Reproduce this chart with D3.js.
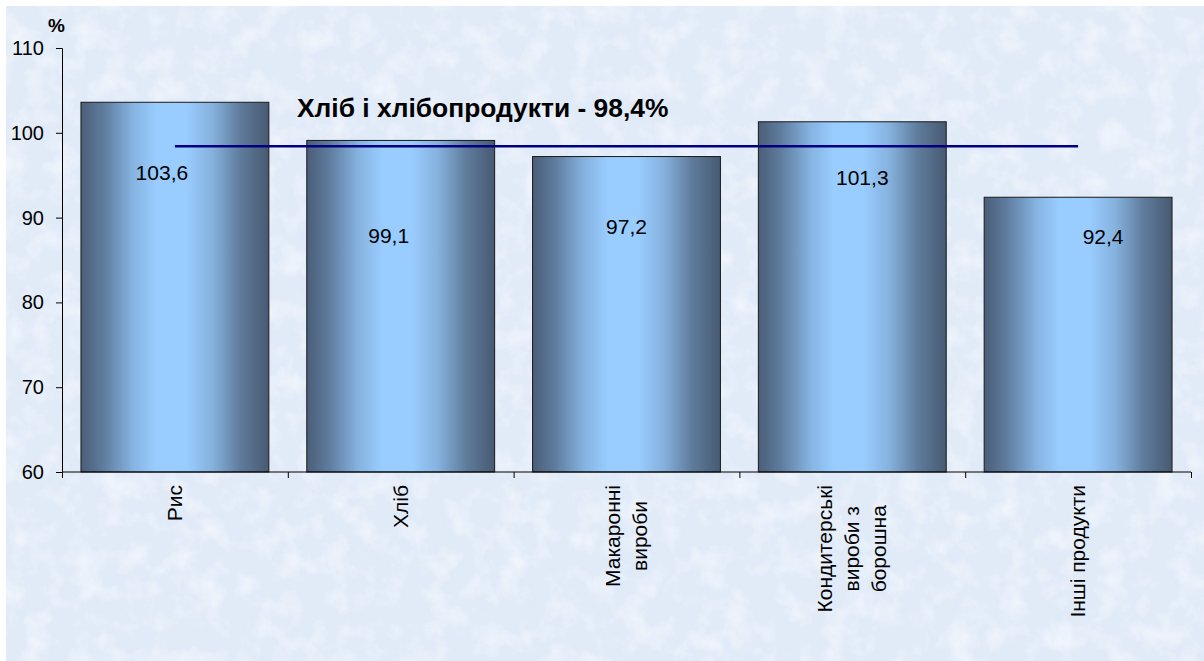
<!DOCTYPE html>
<html><head><meta charset="utf-8">
<script src="https://cdn.jsdelivr.net/npm/d3@7"></script>
<style>
html,body{margin:0;padding:0;background:#fff;}
svg{display:block;font-family:"Liberation Sans",Arial,sans-serif;}
</style></head>
<body>
<svg id="chart" width="1204" height="661"></svg>
<script>
const categories = [["Рис"], ["Хліб"], ["Макаронні", "вироби"], ["Кондитерські", "вироби з", "борошна"], ["Інші продукти"]];
const values = [103.6, 99.1, 97.2, 101.3, 92.4];
const valueLabels = ["103,6", "99,1", "97,2", "101,3", "92,4"];
const yTicks = [60, 70, 80, 90, 100, 110];
const totalValue = 98.4;
const totalLabel = "Хліб і хлібопродукти - 98,4%";
const unitLabel = "%";
// label placement (layout only): offset from bar centre [dx px] and below bar top [dy px]
const labelOffsets = [[-13, 70], [-12, 95], [0, 70], [10, 56], [25, 39]];

const svg = d3.select("#chart");
const defs = svg.append("defs");

// textured paper background: light blotches and darker blue blotches
const f1 = defs.append("filter").attr("id","paperLight").attr("x",0).attr("y",0).attr("width","100%").attr("height","100%");
f1.append("feTurbulence").attr("type","fractalNoise").attr("baseFrequency","0.04").attr("numOctaves",4).attr("seed",3).attr("result","n");
f1.append("feColorMatrix").attr("in","n").attr("type","matrix")
 .attr("values","0 0 0 0 1  0 0 0 0 1  0 0 0 0 1  1.6 0 0 0 -0.72");
const f2 = defs.append("filter").attr("id","paperDark").attr("x",0).attr("y",0).attr("width","100%").attr("height","100%");
f2.append("feTurbulence").attr("type","fractalNoise").attr("baseFrequency","0.07").attr("numOctaves",4).attr("seed",11).attr("result","n");
f2.append("feColorMatrix").attr("in","n").attr("type","matrix")
 .attr("values","0 0 0 0 0.74  0 0 0 0 0.79  0 0 0 0 0.92  0 1.5 0 0 -0.72");

svg.append("rect").attr("x",6).attr("y",6).attr("width",1198).attr("height",655).attr("fill","#e1ebf8");
svg.append("rect").attr("x",6).attr("y",6).attr("width",1198).attr("height",655).attr("fill","#fff").attr("filter","url(#paperDark)").attr("opacity",0.45);
svg.append("rect").attr("x",6).attr("y",6).attr("width",1198).attr("height",655).attr("fill","#fff").attr("filter","url(#paperLight)").attr("opacity",0.75);

const g = defs.append("linearGradient").attr("id","barGrad").attr("x1","0").attr("x2","1").attr("y1","0").attr("y2","0");
[[0,"#4a5e78"],[0.12,"#5f7c9e"],[0.28,"#86b4e2"],[0.4,"#99ccff"],[0.56,"#99ccff"],[0.7,"#85b1dd"],[0.85,"#5f7b9b"],[1,"#475a72"]]
 .forEach(([o,c]) => g.append("stop").attr("offset",o).attr("stop-color",c));

const x = d3.scaleBand().domain(d3.range(categories.length)).range([62, 1191]).paddingInner(0.168).paddingOuter(0.084);
const y = d3.scaleLinear().domain([60, 110]).range([472, 48]);

// bars
svg.append("g").selectAll("rect").data(values).join("rect")
  .attr("x",(d,i)=>x(i)).attr("width",x.bandwidth())
  .attr("y",d=>y(d)).attr("height",d=>y(60)-y(d))
  .attr("fill","url(#barGrad)").attr("stroke","#1a1a1a").attr("stroke-width",1);

// y axis
const yAxis = svg.append("g").attr("transform","translate(62,0)")
  .call(d3.axisLeft(y).tickValues(yTicks).tickSize(6).tickPadding(12).tickFormat(d3.format("d")));
yAxis.select(".domain").attr("stroke","#000");
yAxis.selectAll("line").attr("stroke","#000");
yAxis.selectAll("text").attr("font-size",20).attr("fill","#000").attr("font-family","Liberation Sans, Arial, sans-serif");

// x axis
const xb = d3.scaleLinear().domain([0, categories.length]).range([62, 1191]);
const xAxis = svg.append("g").attr("transform","translate(0,472)")
  .call(d3.axisBottom(xb).tickValues(d3.range(categories.length+1)).tickSize(6).tickFormat(""));
xAxis.select(".domain").attr("stroke","#000").attr("d","M62,0H1191");
xAxis.selectAll("line").attr("stroke","#000");

// category labels (rotated)
const catG = svg.append("g");
categories.forEach((lines,i)=>{
  const cx = x(i) + x.bandwidth()/2;
  const grp = catG.append("g");
  const texts = lines.map((ln,j)=> grp.append("text").text(ln)
    .attr("font-size",21).attr("fill","#000").attr("text-anchor","middle"));
  const maxLen = d3.max(texts, t=>t.node().getComputedTextLength());
  const cy = 485 + maxLen/2;
  texts.forEach((t,j)=>{
    const bx = cx + (j - (lines.length-1)/2)*27 + 7;
    t.attr("transform",`translate(${bx},${cy}) rotate(-90)`);
  });
});

// average line
svg.append("line")
  .attr("x1", x(0)+x.bandwidth()/2).attr("x2", x(categories.length-1)+x.bandwidth()/2)
  .attr("y1", y(totalValue)).attr("y2", y(totalValue))
  .attr("stroke","#000080").attr("stroke-width",2.5);

// value labels
svg.append("g").selectAll("text").data(values).join("text")
  .attr("x",(d,i)=>x(i)+x.bandwidth()/2+labelOffsets[i][0])
  .attr("y",(d,i)=>y(d)+labelOffsets[i][1])
  .attr("dy","0.36em").attr("text-anchor","middle").attr("font-size",21).attr("fill","#000")
  .text((d,i)=>valueLabels[i]);

// title and unit
svg.append("text").attr("x",297).attr("y",117).attr("font-size",26.4).attr("font-weight","bold").attr("fill","#000").text(totalLabel);
svg.append("text").attr("x",48).attr("y",32).attr("font-size",19).attr("font-weight","bold").attr("fill","#000").text(unitLabel);
</script>
</body></html>
